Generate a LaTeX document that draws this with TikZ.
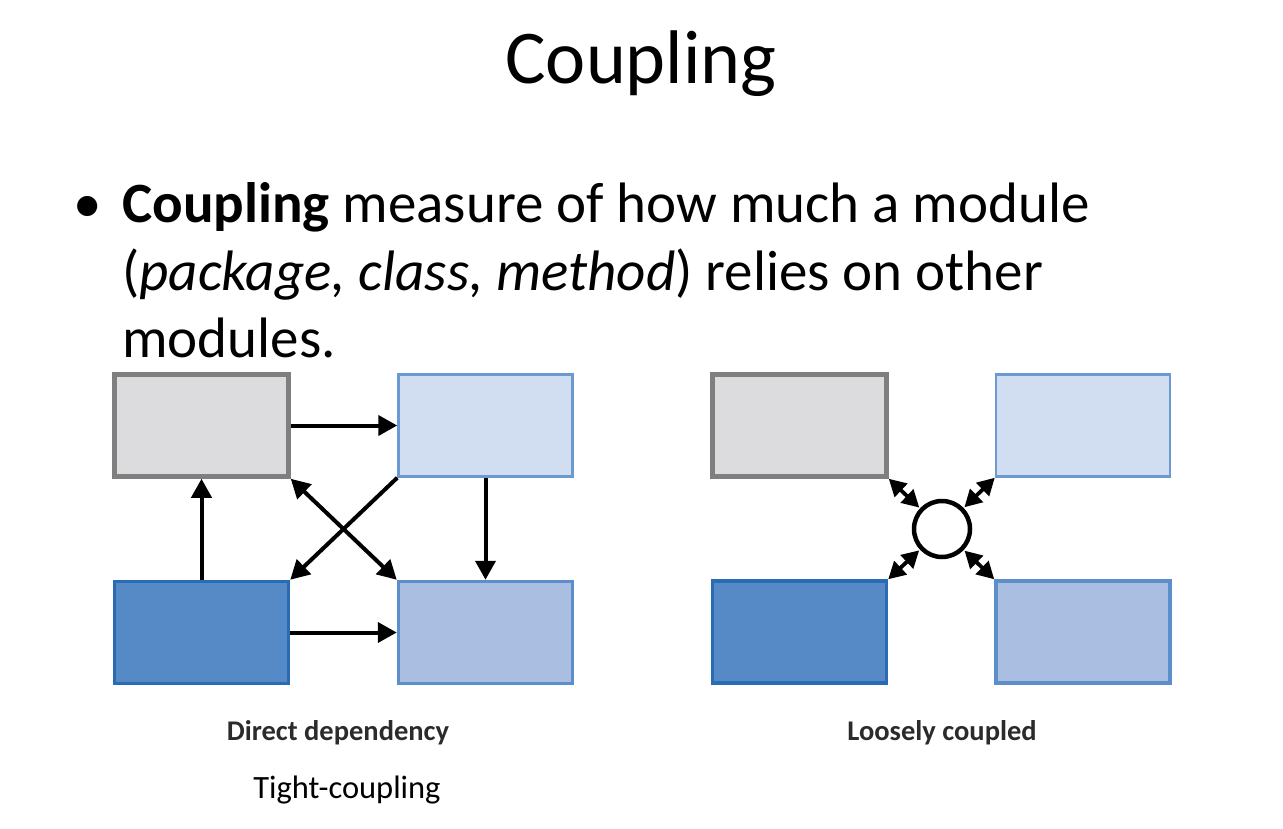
\documentclass[tikz,border=0pt]{standalone}
\usepackage{fontspec}
\setmainfont{Carlito}
\usetikzlibrary{arrows.meta}
\definecolor{grayfill}{HTML}{DCDCDF}
\definecolor{grayline}{HTML}{7F7F7F}
\definecolor{ltfill}{HTML}{D1DDF0}
\definecolor{ltline}{HTML}{6B9AD3}
\definecolor{dkfill}{HTML}{568AC6}
\definecolor{dkline}{HTML}{2A6CB4}
\definecolor{mdfill}{HTML}{A9BEE0}
\definecolor{mdline}{HTML}{5B8ECB}
\definecolor{lbl}{HTML}{2B2B2B}
\tikzset{
  box/.style={draw, rectangle, inner sep=0pt, minimum width=174pt, minimum height=102pt},
  graybox/.style={box, fill=grayfill, draw=grayline, line width=4.5pt},
  ltbox/.style={box, fill=ltfill, draw=ltline, line width=2.5pt},
  dkbox/.style={box, fill=dkfill, draw=dkline, line width=3.5pt},
  mdbox/.style={box, fill=mdfill, draw=mdline, line width=3.5pt},
  conn/.style={line width=4pt, -{Triangle[length=19pt,width=20pt]}},
  dconn/.style={line width=4pt, {Triangle[length=19pt,width=20pt]}-{Triangle[length=19pt,width=20pt]}},
  sconn/.style={line width=3.8pt, {Triangle[length=17pt,width=18pt]}-{Triangle[length=17pt,width=18pt]}, shorten <=1pt},
  bodytxt/.style={anchor=base west, inner sep=0pt, font=\fontsize{57}{67}\selectfont},
  lbltxt/.style={anchor=base, inner sep=0pt, text=lbl, font=\fontsize{28.5}{32}\selectfont\bfseries},
}
\begin{document}
\begin{tikzpicture}[x=1pt, y=-1pt]
\useasboundingbox (0,0) rectangle (1283,828);
% title
\node[anchor=base, inner sep=0pt, font=\fontsize{76}{90}\selectfont] (title) at (641,83) {Coupling};
% bullet text
\node[bodytxt] (bullet) at (73,222) {•};
\node[bodytxt] (l1) at (122,222) {\textbf{Coupling} measure of how much a module};
\node[bodytxt] (l2) at (122,290) {(\textit{package, class, method}) relies on other};
\node[bodytxt] (l3) at (122,357) {modules.};
% left diagram
\node[graybox] (a1) at (201.5,425.5) {};
\node[ltbox] (b1) at (485.5,425.5) {};
\node[dkbox] (c1) at (201.5,632.5) {};
\node[mdbox] (d1) at (485.5,632.5) {};
\draw[conn] (a1.east) -- (b1.west);
\draw[conn] (c1.east) -- (d1.west);
\draw[conn] (c1.north) -- (a1.south);
\draw[conn] (b1.south) -- (d1.north);
\draw[dconn] (a1.south east) -- (d1.north west);
\draw[conn] (b1.south west) -- (c1.north east);
% right diagram
\node[graybox] (a2) at (799.5,425.5) {};
\node[ltbox] (b2) at (1083,425.5) {};
\node[dkbox] (c2) at (799.5,632) {};
\node[mdbox] (d2) at (1083,632) {};
\node[draw, circle, line width=4.5pt, minimum size=56pt, inner sep=0pt, fill=white] (hub) at (942,529) {};
\draw[sconn] (hub) -- (a2.south east);
\draw[sconn] (hub) -- (b2.south west);
\draw[sconn] (hub) -- (c2.north east);
\draw[sconn] (hub) -- (d2.north west);
% labels
\node[lbltxt] (lab1) at (338,740) {Direct dependency};
\node[lbltxt] (lab2) at (942,740) {Loosely coupled};
\node[anchor=base, inner sep=0pt, font=\fontsize{32.5}{36}\selectfont] (lab3) at (347,798) {Tight-coupling};
\end{tikzpicture}
\end{document}
